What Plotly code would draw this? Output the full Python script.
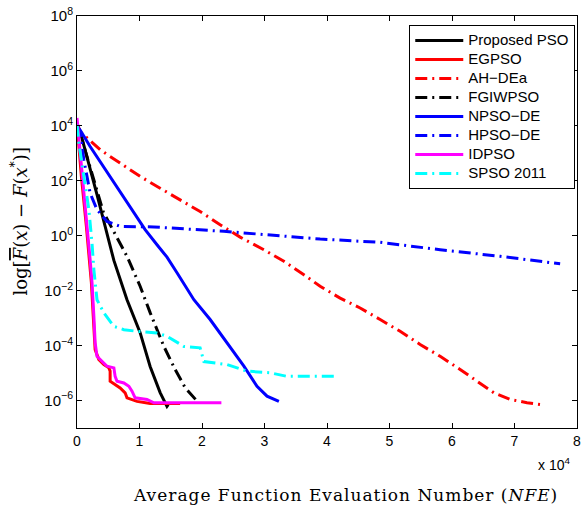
import plotly.graph_objects as go

# x in units of 10^4 NFE, y = log10 of error
pso_x = [0.0, 0.05, 0.32, 0.59, 0.80, 1.01, 1.17, 1.33, 1.44, 1.46]
pso_y = [4.0, 3.8, 1.5, -0.9, -2.33, -3.53, -4.76, -5.71, -6.21, -6.15]

eg_x = [0.0, 0.07, 0.15, 0.20, 0.23, 0.26, 0.29, 0.35, 0.43, 0.51, 0.53, 0.53, 0.61, 0.69, 0.77, 0.80, 0.96, 1.17, 1.65]
eg_y = [4.1, 2.16, 0.34, -0.87, -1.71, -2.93, -4.15, -4.51, -4.69, -4.81, -4.93, -5.30, -5.42, -5.54, -5.72, -5.90, -6.03, -6.11, -6.11]

ah_x = [0.0, 0.05, 0.37, 0.69, 1.01, 1.33, 1.65, 1.97, 2.29, 2.61, 2.99, 3.31, 3.63, 3.89, 4.21, 4.53, 4.85, 5.17, 5.49, 5.81, 6.13, 6.40, 6.67, 6.93, 7.20, 7.44]
ah_y = [4.1, 3.79, 3.13, 2.64, 2.16, 1.73, 1.31, 0.88, 0.40, -0.05, -0.51, -0.93, -1.42, -1.84, -2.27, -2.63, -3.05, -3.48, -3.96, -4.39, -4.87, -5.30, -5.72, -5.96, -6.08, -6.15]

fg_x = [0.0, 0.02, 0.42, 0.80, 1.01, 1.17, 1.39, 1.57, 1.73, 1.92, 1.94]
fg_y = [4.0, 3.96, 0.87, -0.75, -1.84, -2.80, -4.03, -4.87, -5.53, -6.00, -6.07]

np_x = [0.0, 0.05, 0.21, 0.53, 0.85, 1.09, 1.28, 1.44, 1.60, 1.87, 2.13, 2.40, 2.67, 2.88, 3.04, 3.23]
np_y = [4.0, 3.85, 3.25, 2.16, 1.07, 0.22, -0.33, -0.78, -1.35, -2.33, -3.05, -3.90, -4.75, -5.48, -5.84, -6.03]

hp_x = [0.0, 0.05, 0.11, 0.21, 0.32, 0.48, 0.69, 1.23, 2.35, 3.41, 3.89, 4.85, 5.81, 6.77, 7.73]
hp_y = [4.0, 3.79, 2.76, 1.55, 0.95, 0.52, 0.34, 0.32, 0.16, -0.03, -0.12, -0.24, -0.51, -0.75, -1.02]

id_x = [0.0, 0.08, 0.16, 0.21, 0.24, 0.27, 0.29, 0.32, 0.37, 0.48, 0.59, 0.61, 0.64, 0.75, 0.83, 0.88, 0.93, 1.12, 1.23, 2.31]
id_y = [4.29, 2.16, 0.34, -0.87, -1.71, -2.93, -3.89, -4.39, -4.51, -4.75, -4.81, -5.12, -5.30, -5.36, -5.48, -5.66, -5.90, -5.96, -6.08, -6.08]

sp_x = [0.0, 0.03, 0.11, 0.19, 0.24, 0.27, 0.32, 0.43, 0.59, 0.75, 0.96, 1.28, 1.44, 1.71, 1.97, 2.03, 2.40, 2.72, 3.09, 3.36, 4.16]
sp_y = [4.04, 3.37, 2.16, 0.95, -0.27, -1.24, -2.33, -2.81, -3.30, -3.42, -3.48, -3.54, -3.66, -4.03, -4.08, -4.58, -4.69, -4.93, -4.99, -5.12, -5.12]

x_ticks = [0, 1, 2, 3, 4, 5, 6, 7, 8]
y_exps = [-6, -4, -2, 0, 2, 4, 6, 8]

DD = "12px,5px,2px,5px"
series = [
    ("Proposed PSO", pso_x, pso_y, "black", "solid", 3),
    ("EGPSO", eg_x, eg_y, "#ff0000", "solid", 3),
    ("AH\u2212DEa", ah_x, ah_y, "#ff0000", DD, 3),
    ("FGIWPSO", fg_x, fg_y, "black", DD, 3),
    ("NPSO\u2212DE", np_x, np_y, "#0000ff", "solid", 3),
    ("HPSO\u2212DE", hp_x, hp_y, "#0000ff", DD, 3),
    ("IDPSO", id_x, id_y, "#ff00ff", "solid", 3),
    ("SPSO 2011", sp_x, sp_y, "#00ffff", DD, 3),
]

fig = go.Figure()
for name, xs, ys, col, dash, w in series:
    fig.add_trace(go.Scatter(
        x=xs, y=[10 ** v for v in ys], mode="lines",
        name="<span style='font-size:15px'>%s</span>" % name,
        line=dict(color=col, dash=dash, width=w),
    ))

fig.update_layout(
    width=587, height=509,
    margin=dict(l=77, r=10, t=16, b=81, autoexpand=False),
    paper_bgcolor="white", plot_bgcolor="white",
    font=dict(family="Liberation Sans, Arial", size=13, color="black"),
    showlegend=True,
    legend=dict(
        xref="container", yref="container",
        x=0.98, y=0.951, xanchor="right", yanchor="top",
        bordercolor="black", borderwidth=1, bgcolor="white",
        font=dict(family="Liberation Sans, Arial", size=11.5),
        tracegroupgap=0, itemwidth=48,
    ),
)
fig.update_xaxes(
    range=[0, 8], tickvals=x_ticks, ticktext=[str(t) for t in x_ticks],
    showgrid=False, zeroline=False, showline=True, linecolor="black", linewidth=1,
    mirror="ticks", ticks="inside", ticklen=5, tickcolor="black",
    tickfont=dict(size=14),
)
fig.update_yaxes(
    type="log", range=[-7, 8],
    tickvals=[10 ** e for e in y_exps],
    ticktext=["10<sup>%s</sup>" % (str(e).replace("-", "\u2212")) for e in y_exps],
    showgrid=False, zeroline=False, showline=True, linecolor="black", linewidth=1,
    mirror="ticks", ticks="inside", ticklen=5, tickcolor="black",
    tickfont=dict(size=15),
)
fig.add_annotation(
    xref="paper", yref="paper", x=0.99, y=-0.087, xanchor="right", yanchor="middle",
    text="x 10<sup>4</sup>", showarrow=False, font=dict(size=14, family="Liberation Sans, Arial"),
)
fig.add_annotation(
    xref="paper", yref="paper", x=0.536, y=-0.162, xanchor="center", yanchor="middle",
    text="<span style='letter-spacing:1px'>Average Function Evaluation Number (<i>NFE</i>)</span>",
    showarrow=False,
    font=dict(size=17, family="DejaVu Serif"),
)
fig.add_annotation(
    xref="paper", yref="paper", x=-0.115, y=0.5, xanchor="center", yanchor="middle",
    textangle=-90,
    text="log[<span style='text-decoration:overline'><i>F</i></span>(<i>x</i>) \u2212 <i>F</i>(<i>x</i><sup>*</sup>)]",
    showarrow=False, font=dict(size=18, family="DejaVu Serif"),
)
fig.write_html("out.html")
